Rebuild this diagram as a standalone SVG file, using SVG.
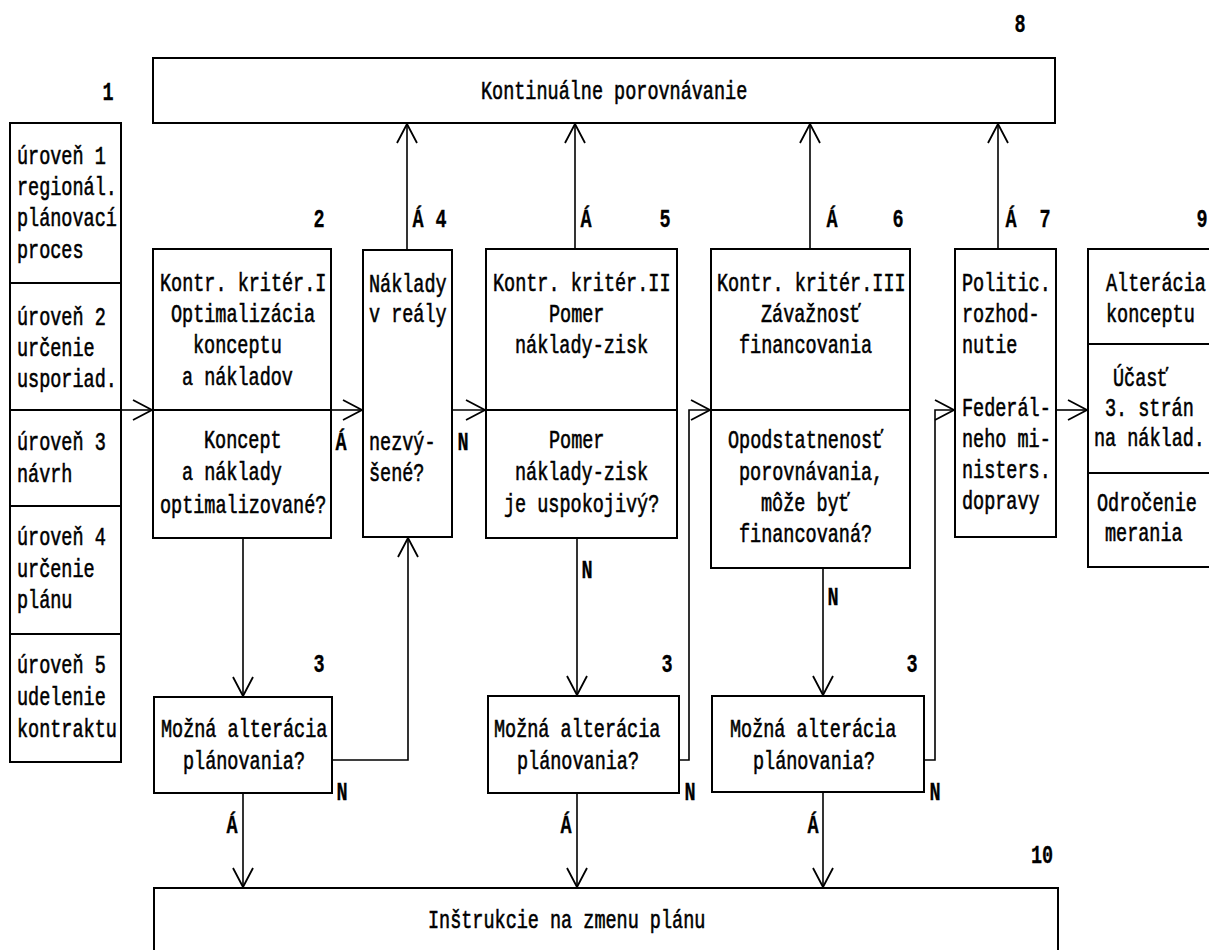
<svg xmlns="http://www.w3.org/2000/svg" width="1209" height="950" viewBox="0 0 1209 950">
<defs>
<style>
.box{fill:#fff;stroke:#000;stroke-width:2}
.dv{stroke:#000;stroke-width:2;fill:none}
.c{fill:none;stroke:#000;stroke-width:1.6;marker-end:url(#a)}
text{font-family:"Liberation Mono","DejaVu Sans Mono",monospace;font-size:26px;fill:#000;stroke:#000;stroke-width:0.6}
.L{font-weight:bold;text-anchor:middle;stroke-width:0.3}
</style>
<marker id="a" markerUnits="userSpaceOnUse" markerWidth="22" markerHeight="24" refX="20" refY="12" orient="auto">
<path d="M1,2 L20,12 L1,22" fill="none" stroke="#000" stroke-width="1.8"/>
</marker>
</defs>
<rect width="1209" height="950" fill="#fff"/>

<g id="connectors">
<path class="c" d="M121,410 H152"/>
<path class="c" d="M331,410 H362"/>
<path class="c" d="M452,410 H485"/>
<path class="c" d="M407,250 V124"/>
<path class="c" d="M575,249 V124"/>
<path class="c" d="M810,249 V124"/>
<path class="c" d="M998,249 V124"/>
<path class="c" d="M243,538 V696"/>
<path class="c" d="M243,793 V887"/>
<path class="c" d="M332,760 H408 V538"/>
<path class="c" d="M577,538 V695"/>
<path class="c" d="M577,793 V887"/>
<path class="c" d="M679,760 H689 V410 H710"/>
<path class="c" d="M823,568 V695"/>
<path class="c" d="M823,792 V887"/>
<path class="c" d="M924,760 H935 V410 H954"/>
<path class="c" d="M1056,410 H1087"/>
</g>

<g id="labels">
<text class="L" transform="translate(108 100) scale(.7115 1)">1</text>
<text class="L" transform="translate(1020 32) scale(.7115 1)">8</text>
<text class="L" transform="translate(319 227) scale(.7115 1)">2</text>
<text class="L" transform="translate(418 227) scale(.7115 1)">Á</text>
<text class="L" transform="translate(441 227) scale(.7115 1)">4</text>
<text class="L" transform="translate(586 227) scale(.7115 1)">Á</text>
<text class="L" transform="translate(665 227) scale(.7115 1)">5</text>
<text class="L" transform="translate(832 227) scale(.7115 1)">Á</text>
<text class="L" transform="translate(898 227) scale(.7115 1)">6</text>
<text class="L" transform="translate(1011 227) scale(.7115 1)">Á</text>
<text class="L" transform="translate(1045 227) scale(.7115 1)">7</text>
<text class="L" transform="translate(1202 227) scale(.7115 1)">9</text>
<text class="L" transform="translate(341 450) scale(.7115 1)">Á</text>
<text class="L" transform="translate(463 450) scale(.7115 1)">N</text>
<text class="L" transform="translate(587 578) scale(.7115 1)">N</text>
<text class="L" transform="translate(833 605) scale(.7115 1)">N</text>
<text class="L" transform="translate(319 672) scale(.7115 1)">3</text>
<text class="L" transform="translate(667 672) scale(.7115 1)">3</text>
<text class="L" transform="translate(912 672) scale(.7115 1)">3</text>
<text class="L" transform="translate(342 800) scale(.7115 1)">N</text>
<text class="L" transform="translate(690 800) scale(.7115 1)">N</text>
<text class="L" transform="translate(935 800) scale(.7115 1)">N</text>
<text class="L" transform="translate(232 833) scale(.7115 1)">Á</text>
<text class="L" transform="translate(566 833) scale(.7115 1)">Á</text>
<text class="L" transform="translate(813 833) scale(.7115 1)">Á</text>
<text class="L" transform="translate(1042 863) scale(.7115 1)">10</text>
</g>

<g id="n8">
<rect class="box" x="153" y="58" width="902" height="65"/>
<text transform="translate(481 99) scale(.7115 1)">Kontinuálne porovnávanie</text>
</g>

<g id="n1">
<rect class="box" x="10" y="123" width="111" height="639"/>
<path class="dv" d="M10,283 H121 M10,410 H121 M10,506 H121 M10,634 H121"/>
<text transform="translate(17 164) scale(.7115 1)">úroveň 1</text>
<text transform="translate(17 195) scale(.7115 1)">regionál.</text>
<text transform="translate(17 226) scale(.7115 1)">plánovací</text>
<text transform="translate(17 258) scale(.7115 1)">proces</text>
<text transform="translate(17 325) scale(.7115 1)">úroveň 2</text>
<text transform="translate(17 356) scale(.7115 1)">určenie</text>
<text transform="translate(17 387) scale(.7115 1)">usporiad.</text>
<text transform="translate(17 450) scale(.7115 1)">úroveň 3</text>
<text transform="translate(17 482) scale(.7115 1)">návrh</text>
<text transform="translate(17 545) scale(.7115 1)">úroveň 4</text>
<text transform="translate(17 577) scale(.7115 1)">určenie</text>
<text transform="translate(17 608) scale(.7115 1)">plánu</text>
<text transform="translate(17 673) scale(.7115 1)">úroveň 5</text>
<text transform="translate(17 705) scale(.7115 1)">udelenie</text>
<text transform="translate(17 737) scale(.7115 1)">kontraktu</text>
</g>

<g id="n2">
<rect class="box" x="153" y="249" width="178" height="289"/>
<path class="dv" d="M153,410 H331"/>
<text transform="translate(160 291) scale(.7115 1)">Kontr. kritér.I</text>
<text transform="translate(171 322) scale(.7115 1)">Optimalizácia</text>
<text transform="translate(193 353) scale(.7115 1)">konceptu</text>
<text transform="translate(182 385) scale(.7115 1)">a nákladov</text>
<text transform="translate(204 448) scale(.7115 1)">Koncept</text>
<text transform="translate(182 480) scale(.7115 1)">a náklady</text>
<text transform="translate(160 513) scale(.7115 1)">optimalizované?</text>
</g>

<g id="n4">
<rect class="box" x="363" y="250" width="89" height="287"/>
<text transform="translate(369 292) scale(.7115 1)">Náklady</text>
<text transform="translate(369 322) scale(.7115 1)">v reály</text>
<text transform="translate(369 450) scale(.7115 1)">nezvý-</text>
<text transform="translate(369 481) scale(.7115 1)">šené?</text>
</g>

<g id="n5">
<rect class="box" x="486" y="249" width="191" height="289"/>
<path class="dv" d="M486,410 H677"/>
<text transform="translate(493 291) scale(.7115 1)">Kontr. kritér.II</text>
<text transform="translate(549 322) scale(.7115 1)">Pomer</text>
<text transform="translate(515 353) scale(.7115 1)">náklady-zisk</text>
<text transform="translate(549 448) scale(.7115 1)">Pomer</text>
<text transform="translate(515 480) scale(.7115 1)">náklady-zisk</text>
<text transform="translate(504 512) scale(.7115 1)">je uspokojivý?</text>
</g>

<g id="n6">
<rect class="box" x="711" y="249" width="199" height="319"/>
<path class="dv" d="M711,410 H910"/>
<text transform="translate(717 291) scale(.7115 1)">Kontr. kritér.III</text>
<text transform="translate(761 322) scale(.7115 1)">Závažnosť</text>
<text transform="translate(739 353) scale(.7115 1)">financovania</text>
<text transform="translate(728 448) scale(.7115 1)">Opodstatnenosť</text>
<text transform="translate(739 480) scale(.7115 1)">porovnávania,</text>
<text transform="translate(761 511) scale(.7115 1)">môže byť</text>
<text transform="translate(739 542) scale(.7115 1)">financovaná?</text>
</g>

<g id="n7">
<rect class="box" x="955" y="249" width="101" height="288"/>
<text transform="translate(962 291) scale(.7115 1)">Politic.</text>
<text transform="translate(962 322) scale(.7115 1)">rozhod-</text>
<text transform="translate(962 353) scale(.7115 1)">nutie</text>
<text transform="translate(962 416) scale(.7115 1)">Federál-</text>
<text transform="translate(962 447) scale(.7115 1)">neho mi-</text>
<text transform="translate(962 478) scale(.7115 1)">nisters.</text>
<text transform="translate(962 509) scale(.7115 1)">dopravy</text>
</g>

<g id="n9">
<rect class="box" x="1088" y="249" width="130" height="318"/>
<path class="dv" d="M1088,344 H1218 M1088,473 H1218"/>
<text transform="translate(1106 291) scale(.7115 1)">Alterácia</text>
<text transform="translate(1106 322) scale(.7115 1)">konceptu</text>
<text transform="translate(1113 386) scale(.7115 1)">Účasť</text>
<text transform="translate(1105 416) scale(.7115 1)">3. strán</text>
<text transform="translate(1094 446) scale(.7115 1)">na náklad.</text>
<text transform="translate(1097 511) scale(.7115 1)">Odročenie</text>
<text transform="translate(1105 541) scale(.7115 1)">merania</text>
</g>

<g id="n3a">
<rect class="box" x="154" y="697" width="178" height="96"/>
<text transform="translate(161 737) scale(.7115 1)">Možná alterácia</text>
<text transform="translate(183 769) scale(.7115 1)">plánovania?</text>
</g>

<g id="n3b">
<rect class="box" x="488" y="696" width="191" height="97"/>
<text transform="translate(494 737) scale(.7115 1)">Možná alterácia</text>
<text transform="translate(517 769) scale(.7115 1)">plánovania?</text>
</g>

<g id="n3c">
<rect class="box" x="712" y="696" width="212" height="96"/>
<text transform="translate(730 737) scale(.7115 1)">Možná alterácia</text>
<text transform="translate(753 769) scale(.7115 1)">plánovania?</text>
</g>

<g id="n10">
<rect class="box" x="154" y="888" width="904" height="70"/>
<text transform="translate(428 928) scale(.7115 1)">Inštrukcie na zmenu plánu</text>
</g>
</svg>
